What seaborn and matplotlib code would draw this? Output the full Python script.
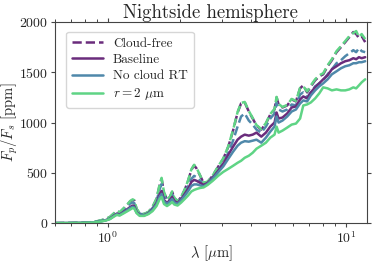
import numpy as np
import pandas as pd
import seaborn as sns
import matplotlib
matplotlib.use("Agg")
import matplotlib.pyplot as plt

# wavelength grid [micron]
wl = [0.60, 0.70, 0.80, 0.88, 0.94, 0.98, 1.02, 1.06, 1.09, 1.12, 1.16, 1.20, 1.24, 1.27, 1.29,
      1.32, 1.36, 1.42, 1.48, 1.54, 1.60, 1.65, 1.68, 1.72, 1.77, 1.82, 1.86, 1.90, 1.96, 2.03,
      2.10, 2.17, 2.24, 2.30, 2.36, 2.44, 2.52, 2.62, 2.75, 2.90, 3.05, 3.20, 3.35, 3.50, 3.62,
      3.75, 3.90, 4.05, 4.20, 4.40, 4.60, 4.80, 5.00, 5.10, 5.20, 5.40, 5.65, 5.90, 6.15, 6.40,
      6.60, 6.85, 7.10, 7.40, 7.70, 8.00, 8.35, 8.70, 9.10, 9.50, 9.90, 10.30, 10.70, 11.00,
      11.30, 11.60, 12.00]

# cloud-free versions (dashed)
free_base = [0, 1, 4, 12, 28, 40, 60, 95, 120, 105, 140, 175, 215, 230, 225,
             140, 95, 90, 110, 160, 240, 380, 440, 300, 235, 260, 310, 250, 215, 260,
             330, 420, 530, 575, 540, 470, 400, 410, 470, 560, 640, 760, 920, 1100, 1190,
             1200, 1110, 1040, 970, 930, 990, 1080, 1130, 1250, 1180, 1150, 1170, 1230, 1210, 1340,
             1370, 1300, 1360, 1420, 1460, 1480, 1560, 1620, 1700, 1750, 1800, 1850, 1900, 1880,
             1840, 1860, 1800]
free_nort = [0, 1, 4, 11, 26, 38, 57, 90, 112, 100, 130, 162, 195, 205, 200,
             130, 92, 88, 106, 150, 220, 340, 390, 275, 225, 245, 285, 240, 210, 245,
             300, 370, 440, 470, 455, 420, 390, 400, 455, 530, 600, 700, 820, 960, 1060,
             1090, 1020, 980, 930, 900, 960, 1040, 1090, 1200, 1130, 1110, 1130, 1180, 1170, 1280,
             1300, 1250, 1300, 1360, 1390, 1420, 1480, 1530, 1590, 1620, 1660, 1690, 1720, 1700,
             1740, 1710, 1700]
free_r2 = [0, 1, 4, 13, 30, 42, 62, 98, 124, 108, 145, 180, 220, 236, 228,
           142, 96, 92, 112, 162, 245, 390, 450, 305, 238, 262, 315, 252, 218, 262,
           335, 425, 535, 580, 545, 472, 402, 412, 472, 565, 645, 765, 925, 1105, 1195,
           1205, 1115, 1045, 975, 935, 995, 1085, 1135, 1255, 1185, 1155, 1175, 1235, 1215, 1345,
           1360, 1310, 1370, 1430, 1470, 1490, 1570, 1630, 1710, 1760, 1810, 1860, 1890, 1910,
           1850, 1880, 1830]

# cloudy versions (solid)
baseline = [0, 1, 3, 8, 20, 30, 45, 75, 95, 85, 110, 135, 160, 175, 170,
            110, 80, 80, 100, 140, 200, 290, 320, 230, 200, 230, 260, 220, 200, 240,
            290, 340, 410, 430, 420, 400, 380, 400, 450, 520, 590, 680, 760, 830, 860,
            880, 870, 880, 900, 860, 900, 960, 1000, 1100, 1040, 1050, 1090, 1150, 1160, 1230,
            1260, 1240, 1300, 1350, 1390, 1430, 1470, 1530, 1560, 1590, 1610, 1620, 1640, 1630,
            1650, 1640, 1650]
no_cloud_rt = [0, 1, 3, 8, 19, 28, 42, 70, 88, 80, 103, 126, 150, 162, 158,
               104, 77, 77, 96, 132, 188, 265, 290, 215, 190, 215, 240, 205, 190, 228,
               272, 318, 370, 385, 385, 375, 365, 390, 440, 505, 565, 640, 710, 770, 800,
               815, 810, 820, 830, 800, 850, 910, 960, 1060, 1000, 1020, 1060, 1110, 1130, 1190,
               1220, 1210, 1270, 1320, 1360, 1390, 1430, 1480, 1510, 1540, 1560, 1570, 1590, 1590,
               1600, 1600, 1610]
r2 = [0, 1, 3, 7, 17, 26, 40, 65, 82, 75, 95, 115, 135, 150, 145,
      100, 72, 72, 90, 120, 170, 240, 260, 190, 170, 190, 210, 185, 175, 205,
      240, 275, 315, 330, 340, 350, 355, 380, 420, 470, 510, 540, 570, 600, 620,
      650, 670, 700, 740, 770, 800, 850, 880, 960, 900, 920, 950, 980, 990, 1040,
      1170, 1180, 1200, 1240, 1290, 1350, 1340, 1320, 1330, 1320, 1320, 1330, 1350, 1340,
      1370, 1400, 1430]

purple = "#6a2c7c"
blue = "#4f88aa"
green = "#5fd485"

sns.set_style("ticks")
plt.rcParams["font.family"] = ["cmr10", "DejaVu Serif"]
plt.rcParams["mathtext.fontset"] = "cm"
plt.rcParams["axes.formatter.use_mathtext"] = True
plt.rcParams["xtick.direction"] = "out"
plt.rcParams["ytick.direction"] = "out"
plt.rcParams["xtick.top"] = True
plt.rcParams["ytick.right"] = True

fig = plt.figure(figsize=(3.74, 2.65), dpi=100)
ax = fig.add_axes([0.147, 0.158, 0.834, 0.759])

lw = 1.8
sns.lineplot(x=wl, y=free_base, color=purple, lw=lw, linestyle="--", ax=ax, label="Cloud-free")
sns.lineplot(x=wl, y=free_nort, color=blue, lw=lw, linestyle="--", ax=ax)
sns.lineplot(x=wl, y=free_r2, color=green, lw=lw, linestyle="--", ax=ax)
sns.lineplot(x=wl, y=baseline, color=purple, lw=lw, ax=ax, label="Baseline")
sns.lineplot(x=wl, y=no_cloud_rt, color=blue, lw=lw, ax=ax, label="No cloud RT")
sns.lineplot(x=wl, y=r2, color=green, lw=lw, ax=ax, label=r"$r = 2\ \mu$m")

ax.set_xscale("log")
ax.set_xlim(0.6, 12.2)
ax.set_ylim(0, 2000)
ax.set_yticks([0, 500, 1000, 1500, 2000])
ax.tick_params(labelsize=10, length=3, pad=2, color="#444444")
ax.tick_params(which="minor", length=2, top=True)
for s in ax.spines.values():
    s.set_color("#444444")

ax.set_xlabel(r"$\lambda$ [$\mu$m]", fontsize=10.5)
ax.set_ylabel(r"$F_p/F_s$ [ppm]", fontsize=10.5)
ax.xaxis.set_label_coords(0.5, -0.1)
ax.yaxis.set_label_coords(-0.112, 0.5)
ax.set_title("Nightside hemisphere", fontsize=13.5, pad=1)
ax.legend(loc="upper left", fontsize=9.5, frameon=True, handlelength=2.3,
          labelspacing=0.3, borderpad=0.45, handletextpad=0.8,
          bbox_to_anchor=(0.015, 0.985))

fig.savefig("out.png", dpi=100)
